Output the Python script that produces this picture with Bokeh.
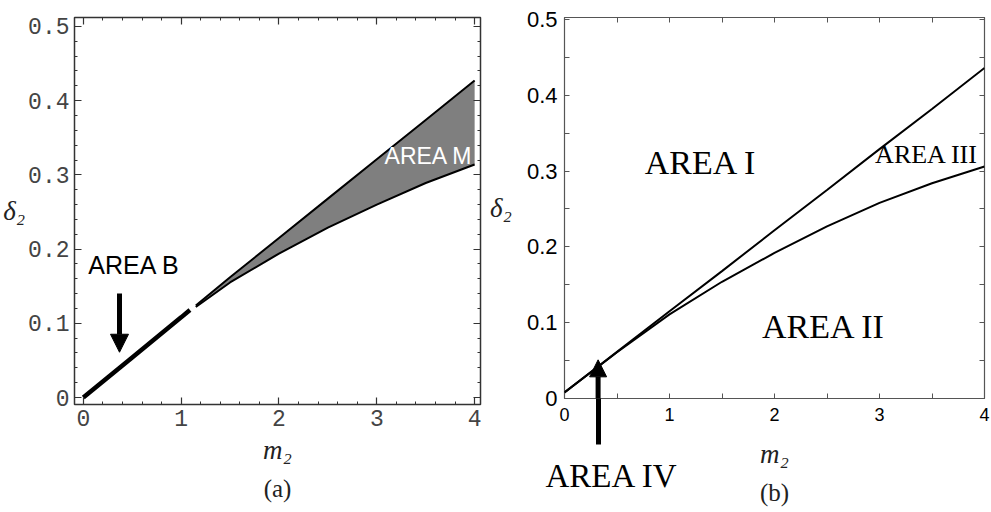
from bokeh.plotting import figure
from bokeh.layouts import row
from bokeh.models import (Label, Arrow, NormalHead, LinearAxis, FixedTicker, Range1d,
                          PrintfTickFormatter, Title)
from bokeh.embed import file_html
from bokeh.resources import INLINE

# ---------------- data ----------------
# panel (a): thin band (AREA B) and the shaded wedge (AREA M)
m2_band = [0.0, 0.5, 1.0, 1.09]
delta_band = [0.0, 0.054, 0.108, 0.118]
m2_M = [1.15, 1.5, 2.0, 2.5, 3.0, 3.5, 4.0]
upper_M = [0.124, 0.162, 0.215, 0.268, 0.321, 0.374, 0.427]
lower_M = [0.122, 0.155, 0.194, 0.229, 0.260, 0.289, 0.314]

# panel (b): two boundary curves
m2_b = [0.0, 0.5, 1.0, 1.5, 2.0, 2.5, 3.0, 3.5, 4.0]
upper_b = [0.008, 0.0615, 0.115, 0.168, 0.222, 0.275, 0.329, 0.382, 0.436]
lower_b = [0.008, 0.061, 0.111, 0.154, 0.192, 0.227, 0.258, 0.284, 0.306]

x_ticks = [0, 1, 2, 3, 4]
y_ticks = [0, 0.1, 0.2, 0.3, 0.4, 0.5]
x_minor_a = [0.2 * k for k in range(21)]
y_minor_a = [0.02 * k for k in range(26)]
x_half_b = [0.5, 1.5, 2.5, 3.5]
y_minor_b = [0.05, 0.15, 0.25, 0.35, 0.45]

arrow_b_x = 0.32          # AREA IV arrow position (m2)
SHAFT = 46                # length of the AREA IV arrow below the axis, px

SERIF = "Liberation Serif"
SANS = "Liberation Sans"

# ---------------- panel (a) ----------------
p1 = figure(frame_width=406, frame_height=387,
            x_range=Range1d(-0.09, 4.06), y_range=Range1d(-0.0094, 0.512),
            output_backend="svg", toolbar_location=None,
            min_border_left=72, min_border_right=6, min_border_top=17, min_border_bottom=107)
p1.grid.visible = False
p1.outline_line_color = "#333333"
p1.outline_line_width = 1.5

xt_a = FixedTicker(ticks=x_ticks, minor_ticks=x_minor_a)
yt_a = FixedTicker(ticks=y_ticks, minor_ticks=y_minor_a)

def style_axis_a(ax, show_labels):
    ax.axis_line_color = None
    ax.major_tick_in = 7
    ax.major_tick_out = 0
    ax.minor_tick_in = 3
    ax.minor_tick_out = 0
    ax.major_tick_line_color = "#333333"
    ax.minor_tick_line_color = "#333333"
    ax.major_tick_line_width = 1.2
    if show_labels:
        ax.major_label_text_font = "Liberation Mono"
        ax.major_label_text_font_size = "23px"
        ax.major_label_text_color = "#444444"
        ax.major_label_standoff = 5
        ax.formatter = PrintfTickFormatter(format="%g")
    else:
        ax.major_label_text_font_size = "1px"
        ax.major_label_text_color = None
        ax.major_label_standoff = 0

p1.xaxis.ticker = xt_a
p1.yaxis.ticker = yt_a
style_axis_a(p1.xaxis[0], True)
style_axis_a(p1.yaxis[0], True)
p1.xaxis.axis_label = "m₂"
p1.xaxis.axis_label_standoff = 6
p1.yaxis.axis_label = "δ₂"
p1.yaxis.axis_label_orientation = "horizontal"
p1.yaxis.axis_label_standoff = 0
for ax in (p1.xaxis[0], p1.yaxis[0]):
    ax.axis_label_text_font = SERIF
    ax.axis_label_text_font_style = "italic"
    ax.axis_label_text_font_size = "27px"
    ax.axis_label_text_color = "#222222"

top_a = LinearAxis(ticker=xt_a)
right_a = LinearAxis(ticker=yt_a)
style_axis_a(top_a, False)
style_axis_a(right_a, False)
p1.add_layout(top_a, "above")
p1.add_layout(right_a, "right")
p1.add_layout(Title(text="(a)", align="center", vertical_align="bottom", text_font=SERIF,
                    text_font_size="25px", text_font_style="normal", text_color="#222222",
                    standoff=11), "below")

p1.varea(x=m2_M, y1=lower_M, y2=upper_M, fill_color="#7f7f7f")
p1.line(m2_M, upper_M, line_color="black", line_width=2)
p1.line(m2_M, lower_M, line_color="black", line_width=2)
p1.line(m2_band, delta_band, line_color="black", line_width=4.5)

p1.add_layout(Label(x=0.52, y=0.179, text="AREA B", text_font=SANS, text_font_size="25px",
                    text_align="center", text_baseline="middle", text_color="black"))
p1.add_layout(Label(x=3.53, y=0.326, text="AREA M", text_font=SANS, text_font_size="23px",
                    text_align="center", text_baseline="middle", text_color="white"))
p1.add_layout(Arrow(x_start=0.37, y_start=0.14, x_end=0.37, y_end=0.061, line_width=5,
                    line_color="black",
                    end=NormalHead(size=18, fill_color="black", line_color="black")))

# ---------------- panel (b) ----------------
p2 = figure(frame_width=420, frame_height=381,
            x_range=Range1d(0, 4), y_range=Range1d(0, 0.5026),
            output_backend="svg", toolbar_location=None,
            min_border_left=77, min_border_right=8, min_border_top=13, min_border_bottom=117)
p2.grid.visible = False
p2.outline_line_color = "#555555"
p2.outline_line_width = 1.2

xt_b_top = FixedTicker(ticks=x_ticks, minor_ticks=x_half_b)
# bottom axis: integer and half ticks as majors; the single minor tick is the
# shaft of the AREA IV arrow, reaching below the axis
xt_b_bottom = FixedTicker(ticks=sorted(x_ticks + x_half_b), minor_ticks=[arrow_b_x])
yt_b = FixedTicker(ticks=y_ticks, minor_ticks=y_minor_b)

def style_axis_b(ax, show_labels, size="19px", standoff=7):
    ax.axis_line_color = None
    ax.major_tick_in = 5
    ax.major_tick_out = 0
    ax.minor_tick_in = 5
    ax.minor_tick_out = 0
    ax.major_tick_line_color = "#555555"
    ax.minor_tick_line_color = "#555555"
    if show_labels:
        ax.major_label_text_font = SANS
        ax.major_label_text_font_size = size
        ax.major_label_text_color = "black"
        ax.major_label_standoff = standoff
        ax.formatter = PrintfTickFormatter(format="%g")
    else:
        ax.major_label_text_font_size = "1px"
        ax.major_label_text_color = None
        ax.major_label_standoff = 0

p2.xaxis.ticker = xt_b_bottom
p2.yaxis.ticker = yt_b
style_axis_b(p2.xaxis[0], True, "18px", 9 - SHAFT)
style_axis_b(p2.yaxis[0], True, "22px", 7)
p2.xaxis.major_label_overrides = {h: "" for h in x_half_b}
p2.xaxis.minor_tick_in = 0
p2.xaxis.minor_tick_out = SHAFT
p2.xaxis.minor_tick_line_width = 5
p2.xaxis.minor_tick_line_color = "black"
p2.xaxis.axis_label = "m₂"
p2.xaxis.axis_label_standoff = 15
p2.yaxis.axis_label = "δ₂"
p2.yaxis.axis_label_orientation = "horizontal"
p2.yaxis.axis_label_standoff = 12
for ax in (p2.xaxis[0], p2.yaxis[0]):
    ax.axis_label_text_font = SERIF
    ax.axis_label_text_font_style = "italic"
    ax.axis_label_text_font_size = "27px"
    ax.axis_label_text_color = "#222222"

top_b = LinearAxis(ticker=xt_b_top)
right_b = LinearAxis(ticker=yt_b)
style_axis_b(top_b, False)
style_axis_b(right_b, False)
p2.add_layout(top_b, "above")
p2.add_layout(right_b, "right")

# "AREA IV" below the axis (negative standoff: it shares the band of the m2 label)
p2.add_layout(Title(text="AREA IV", align="left", vertical_align="bottom", offset=-19,
                    text_font=SERIF, text_font_size="33px", text_font_style="normal",
                    text_color="black", standoff=-44), "below")
p2.add_layout(Title(text="(b)", align="center", vertical_align="bottom", text_font=SERIF,
                    text_font_size="25px", text_font_style="normal", text_color="#222222",
                    standoff=11), "below")

p2.line(m2_b, upper_b, line_color="black", line_width=2)
p2.line(m2_b, lower_b, line_color="black", line_width=2)

p2.add_layout(Label(x=1.30, y=0.311, text="AREA I", text_font=SERIF, text_font_size="34px",
                    text_align="center", text_baseline="middle", text_color="black"))
p2.add_layout(Label(x=2.47, y=0.095, text="AREA II", text_font=SERIF, text_font_size="34px",
                    text_align="center", text_baseline="middle", text_color="black"))
p2.add_layout(Label(x=3.45, y=0.322, text="AREA III", text_font=SERIF, text_font_size="26px",
                    text_align="center", text_baseline="middle", text_color="black"))
p2.add_layout(Arrow(x_start=arrow_b_x, y_start=0.0, x_end=arrow_b_x, y_end=0.051, line_width=5,
                    line_color="black",
                    end=NormalHead(size=17, fill_color="black", line_color="black")))

layout = row(p1, p2)
open("out.html", "w").write(file_html(layout, INLINE))
